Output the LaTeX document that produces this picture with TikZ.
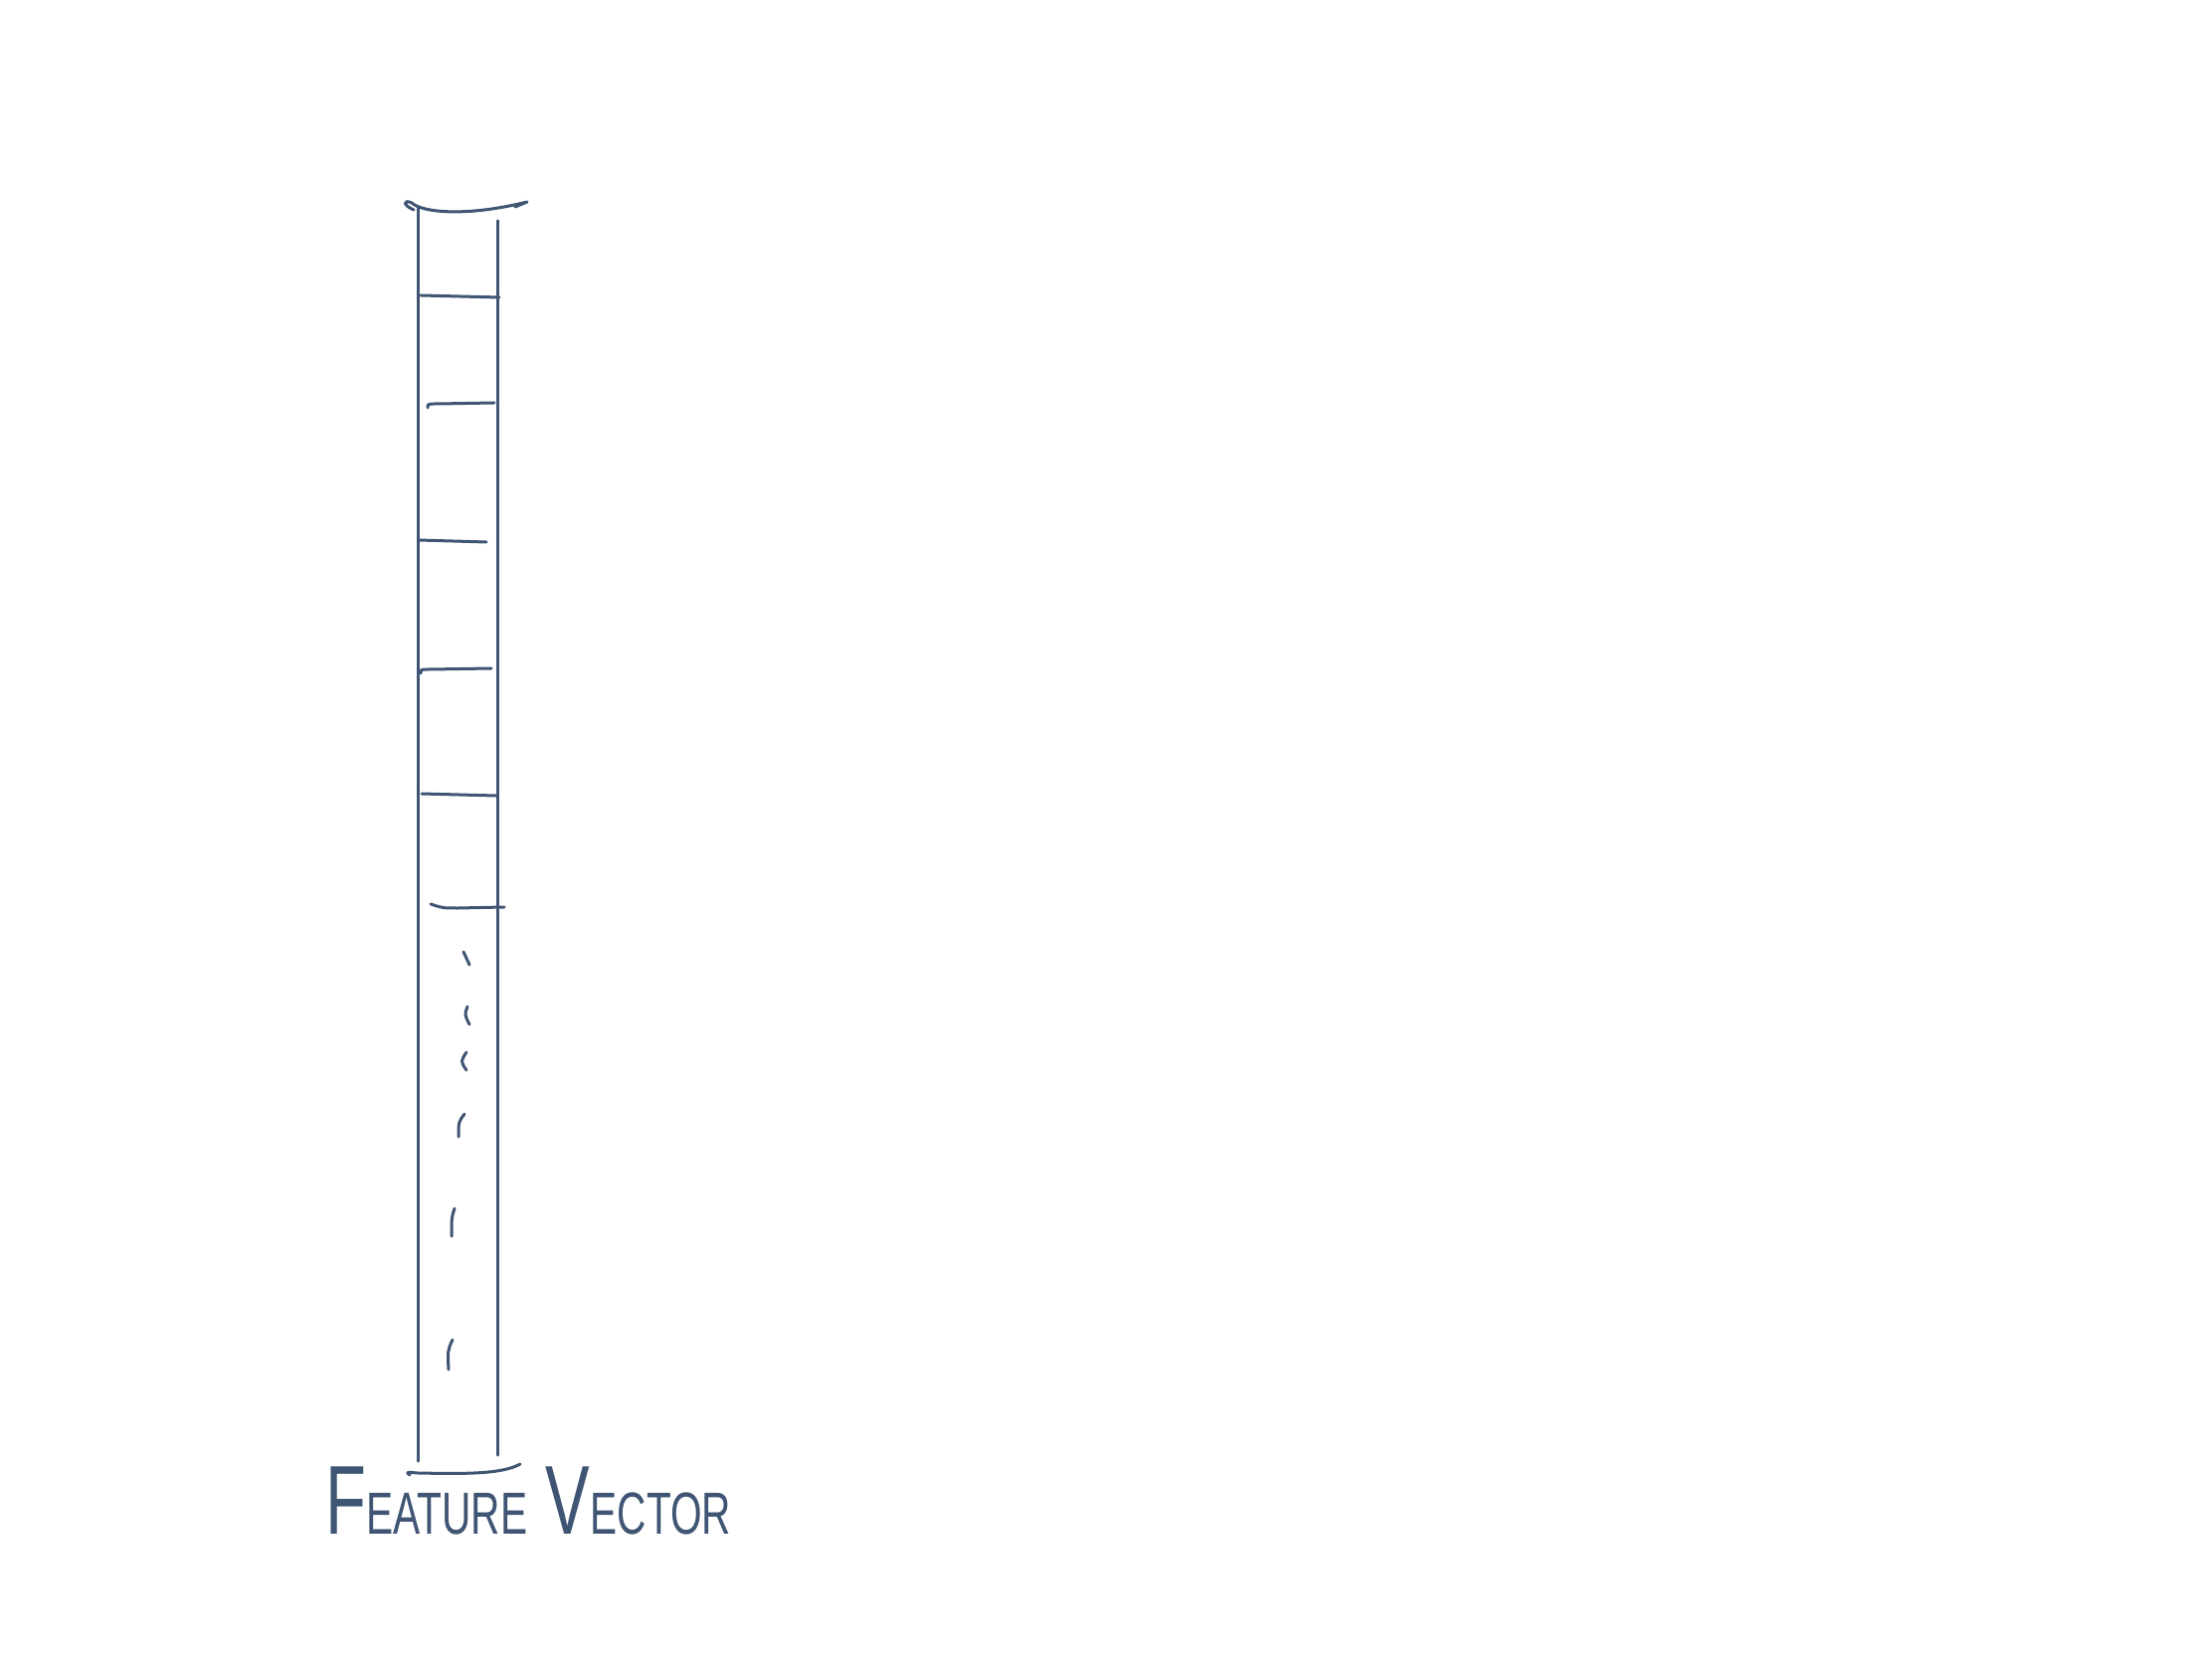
\documentclass[tikz,border=0pt]{standalone}
\usepackage{fontspec}
\setmainfont{Liberation Sans}
\definecolor{ink}{HTML}{3F5573}
\begin{document}
\begin{tikzpicture}[x=0.1mm,y=-0.1mm,
  pen/.style={draw=ink,line width=0.3mm,line cap=round,line join=round},
  lbl/.style={text=ink,inner sep=0pt,anchor=base west}]
\useasboundingbox[fill=white] (0,0) rectangle (2224,1668);
% vertical sides
\draw[pen] (420,209) -- (420,1469);
\draw[pen] (500,222) -- (500,1463);
% top cap
\draw[pen] (416,211) .. controls (404,206) and (406,200) .. (414,204)
  .. controls (425,214) and (470,218) .. (530,203) -- (518,208);
% separators
\draw[pen] (423,297) -- (502,299);
\draw[pen] (430,410) .. controls (430,406) .. (440,406) -- (497,405);
\draw[pen] (421,543) -- (489,545);
\draw[pen] (423,677) .. controls (423,673) .. (432,673) -- (494,672);
\draw[pen] (424,798) -- (499,800);
\draw[pen] (433,909) .. controls (445,913) .. (460,913) -- (507,912);
% dashes
\draw[pen] (466,957) -- (472,970);
\draw[pen] (470,1012) .. controls (467,1020) .. (472,1030);
\draw[pen] (469,1058) .. controls (463,1067) .. (469,1076);
\draw[pen] (467,1120) .. controls (461,1128) .. (461,1143);
\draw[pen] (457,1215) .. controls (454,1224) .. (454,1243);
\draw[pen] (455,1347) .. controls (450,1358) .. (451,1377);
% bottom cap
\draw[pen] (412,1483) .. controls (408,1480) .. (420,1481)
  .. controls (470,1482) and (505,1482) .. (523,1472);
% label
\node[lbl] (label) at (327,1542) {\scalebox{0.68}[1]{\fontsize{28pt}{30pt}\selectfont F\fontsize{17pt}{19pt}\selectfont EATURE\fontsize{28pt}{30pt}\selectfont\ V\fontsize{17pt}{19pt}\selectfont ECTOR}};
\end{tikzpicture}
\end{document}
